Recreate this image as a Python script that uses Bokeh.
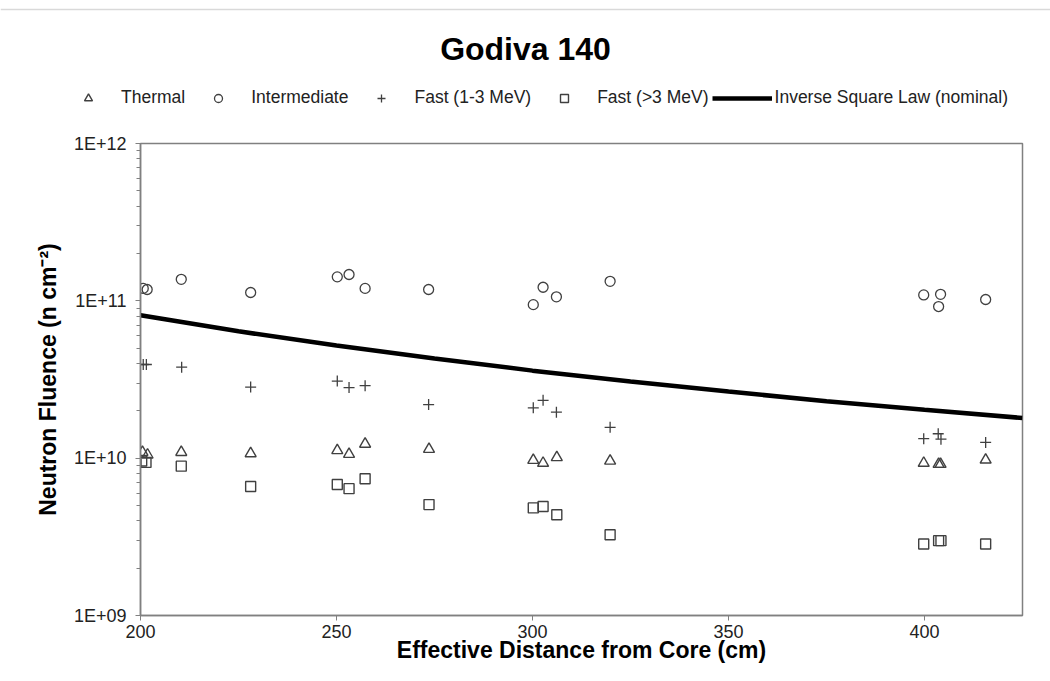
from bokeh.plotting import figure
from bokeh.layouts import column
from bokeh.models import (Range1d, FixedTicker, CustomJSTickFormatter, Legend, LegendItem,
                          Label, Span)
from bokeh.embed import file_html
from bokeh.resources import INLINE

# ---- data ----
thermal_x = [200.5, 201.8, 210.4, 228.1, 250.2, 253.2, 257.3, 273.6, 300.2, 302.7, 306.2, 319.8, 399.8, 403.6, 404.1, 415.6]
thermal_y = [1.09e10, 1.05e10, 1.09e10, 1.07e10, 1.12e10, 1.06e10, 1.23e10, 1.14e10, 9.7e9, 9.3e9, 1.01e10, 9.6e9, 9.3e9, 9.15e9, 9.15e9, 9.75e9]

inter_x = [200.7, 201.7, 210.4, 228.1, 250.2, 253.2, 257.3, 273.5, 300.2, 302.7, 306.1, 319.8, 399.8, 404.1, 403.6, 415.6]
inter_y = [1.20e11, 1.18e11, 1.37e11, 1.13e11, 1.42e11, 1.47e11, 1.20e11, 1.18e11, 9.46e10, 1.22e11, 1.06e11, 1.33e11, 1.09e11, 1.10e11, 9.2e10, 1.02e11]

fast13_x = [200.7, 201.5, 210.5, 228.1, 250.2, 253.2, 257.3, 273.5, 300.2, 302.7, 306.1, 319.8, 399.8, 403.5, 404.2, 415.6]
fast13_y = [3.94e10, 3.94e10, 3.79e10, 2.83e10, 3.09e10, 2.81e10, 2.89e10, 2.19e10, 2.09e10, 2.33e10, 1.96e10, 1.57e10, 1.33e10, 1.43e10, 1.32e10, 1.26e10]

fast3_x = [200.3, 201.4, 210.4, 228.1, 250.2, 253.2, 257.3, 273.6, 300.2, 302.7, 306.2, 319.8, 399.8, 403.6, 404.2, 415.6]
fast3_y = [9.6e9, 9.4e9, 8.9e9, 6.6e9, 6.8e9, 6.4e9, 7.4e9, 5.07e9, 4.83e9, 4.93e9, 4.37e9, 3.26e9, 2.85e9, 2.99e9, 2.99e9, 2.85e9]

isl_x = [200, 225, 250, 275, 300, 325, 350, 375, 400, 425]
isl_y = [8.1e10, 6.4e10, 5.2e10, 4.3e10, 3.6e10, 3.07e10, 2.65e10, 2.3e10, 2.03e10, 1.8e10]

x_ticks = [200, 250, 300, 350, 400]
y_tick_values = [1e9, 1e10, 1e11, 1e12]
y_tick_labels = ["1E+09", "1E+10", "1E+11", "1E+12"]
legend_labels = ["Thermal", "Intermediate", "Fast (1-3 MeV)", "Fast (>3 MeV)", "Inverse Square Law (nominal)"]
chart_title = "Godiva 140"

FONT = "Liberation Sans"
MARK = "#404040"
HEAD_H = 133


def add_series(fig):
    r_th = fig.scatter(thermal_x, thermal_y, marker="triangle", size=11, fill_color=None,
                       line_color=MARK, line_width=1.4)
    r_in = fig.scatter(inter_x, inter_y, marker="circle", size=10, fill_color=None,
                       line_color=MARK, line_width=1.3)
    r_f1 = fig.scatter(fast13_x, fast13_y, marker="cross", size=11, line_color=MARK, line_width=1.3)
    r_f3 = fig.scatter(fast3_x, fast3_y, marker="square", size=10, fill_color=None,
                       line_color=MARK, line_width=1.4)
    r_isl = fig.line(isl_x, isl_y, line_color="black", line_width=4.5)
    return [r_th, r_in, r_f1, r_f3, r_isl]


# ---- header: title + legend ----
head = figure(width=1050, height=HEAD_H, output_backend="svg", toolbar_location=None,
              x_range=Range1d(0, 1), y_range=Range1d(0, 1),
              x_axis_location=None, y_axis_location=None, min_border=0)
head.frame_align = False
head.grid.visible = False
head.outline_line_color = None
head.background_fill_color = "white"
head.border_fill_color = "white"
head_renderers = add_series(head)  # data lies outside the header ranges; used for legend glyphs

head.add_layout(Span(location=1 - 9 / HEAD_H, dimension="width", line_color="#d9d9d9", line_width=1.5))
head.add_layout(Label(x=525, y=HEAD_H - 48, x_units="screen", y_units="screen", text=chart_title,
                      text_align="center", text_baseline="middle", text_font=FONT,
                      text_font_style="bold", text_font_size="32px", text_color="black"))

legend = Legend(items=[LegendItem(label=lab, renderers=[r]) for lab, r in zip(legend_labels, head_renderers)],
                orientation="horizontal", location=(58, HEAD_H - 108),
                glyph_width=60, glyph_height=20, label_height=20, label_standoff=3,
                spacing=3, padding=0, margin=0, border_line_color=None,
                background_fill_alpha=0, label_text_font=FONT, label_text_font_size="17.5px",
                label_text_color="#222222")
head.add_layout(legend, "center")

# ---- main plot ----
p = figure(width=1050, height=681 - HEAD_H, output_backend="svg", toolbar_location=None,
           y_axis_type="log", x_range=Range1d(200, 425), y_range=Range1d(1e9, 1e12),
           min_border_left=140, min_border_right=28, min_border_top=10, min_border_bottom=66)
p.grid.visible = False
p.outline_line_color = "#808080"
p.outline_line_width = 1.5
p.background_fill_color = "white"
p.border_fill_color = "white"
add_series(p)

xa = p.xaxis[0]
xa.ticker = FixedTicker(ticks=x_ticks)
xa.axis_label = "Effective Distance from Core (cm)"
ya = p.yaxis[0]
minor = [m * v for v in y_tick_values[:-1] for m in range(2, 10)]
ya.ticker = FixedTicker(ticks=y_tick_values, minor_ticks=minor)
ya.formatter = CustomJSTickFormatter(args=dict(vals=y_tick_values, labels=y_tick_labels), code="""
    for (let i = 0; i < vals.length; i++) {
        if (Math.abs(Math.log10(vals[i]) - Math.log10(tick)) < 1e-6) return labels[i];
    }
    return '';
""")
ya.axis_label = "Neutron Fluence (n cm\u207b\u00b2)"

for ax in (xa, ya):
    ax.axis_line_color = "#808080"
    ax.axis_line_width = 1.5
    ax.major_tick_line_color = "#808080"
    ax.minor_tick_line_color = "#808080"
    ax.major_tick_out = 5
    ax.major_tick_in = 0
    ax.minor_tick_in = 0
    ax.major_label_text_font = FONT
    ax.major_label_text_font_size = "18px"
    ax.major_label_text_color = "#222222"
    ax.axis_label_text_font = FONT
    ax.axis_label_text_font_style = "bold"
    ax.axis_label_text_font_size = "23px"
    ax.axis_label_text_color = "black"
xa.minor_tick_out = 0
xa.major_label_standoff = 4
xa.axis_label_standoff = -4
ya.minor_tick_out = 4
ya.major_label_standoff = 9
ya.axis_label_standoff = 10

layout = column(head, p, spacing=0)
open("out.html", "w").write(file_html(layout, INLINE))
